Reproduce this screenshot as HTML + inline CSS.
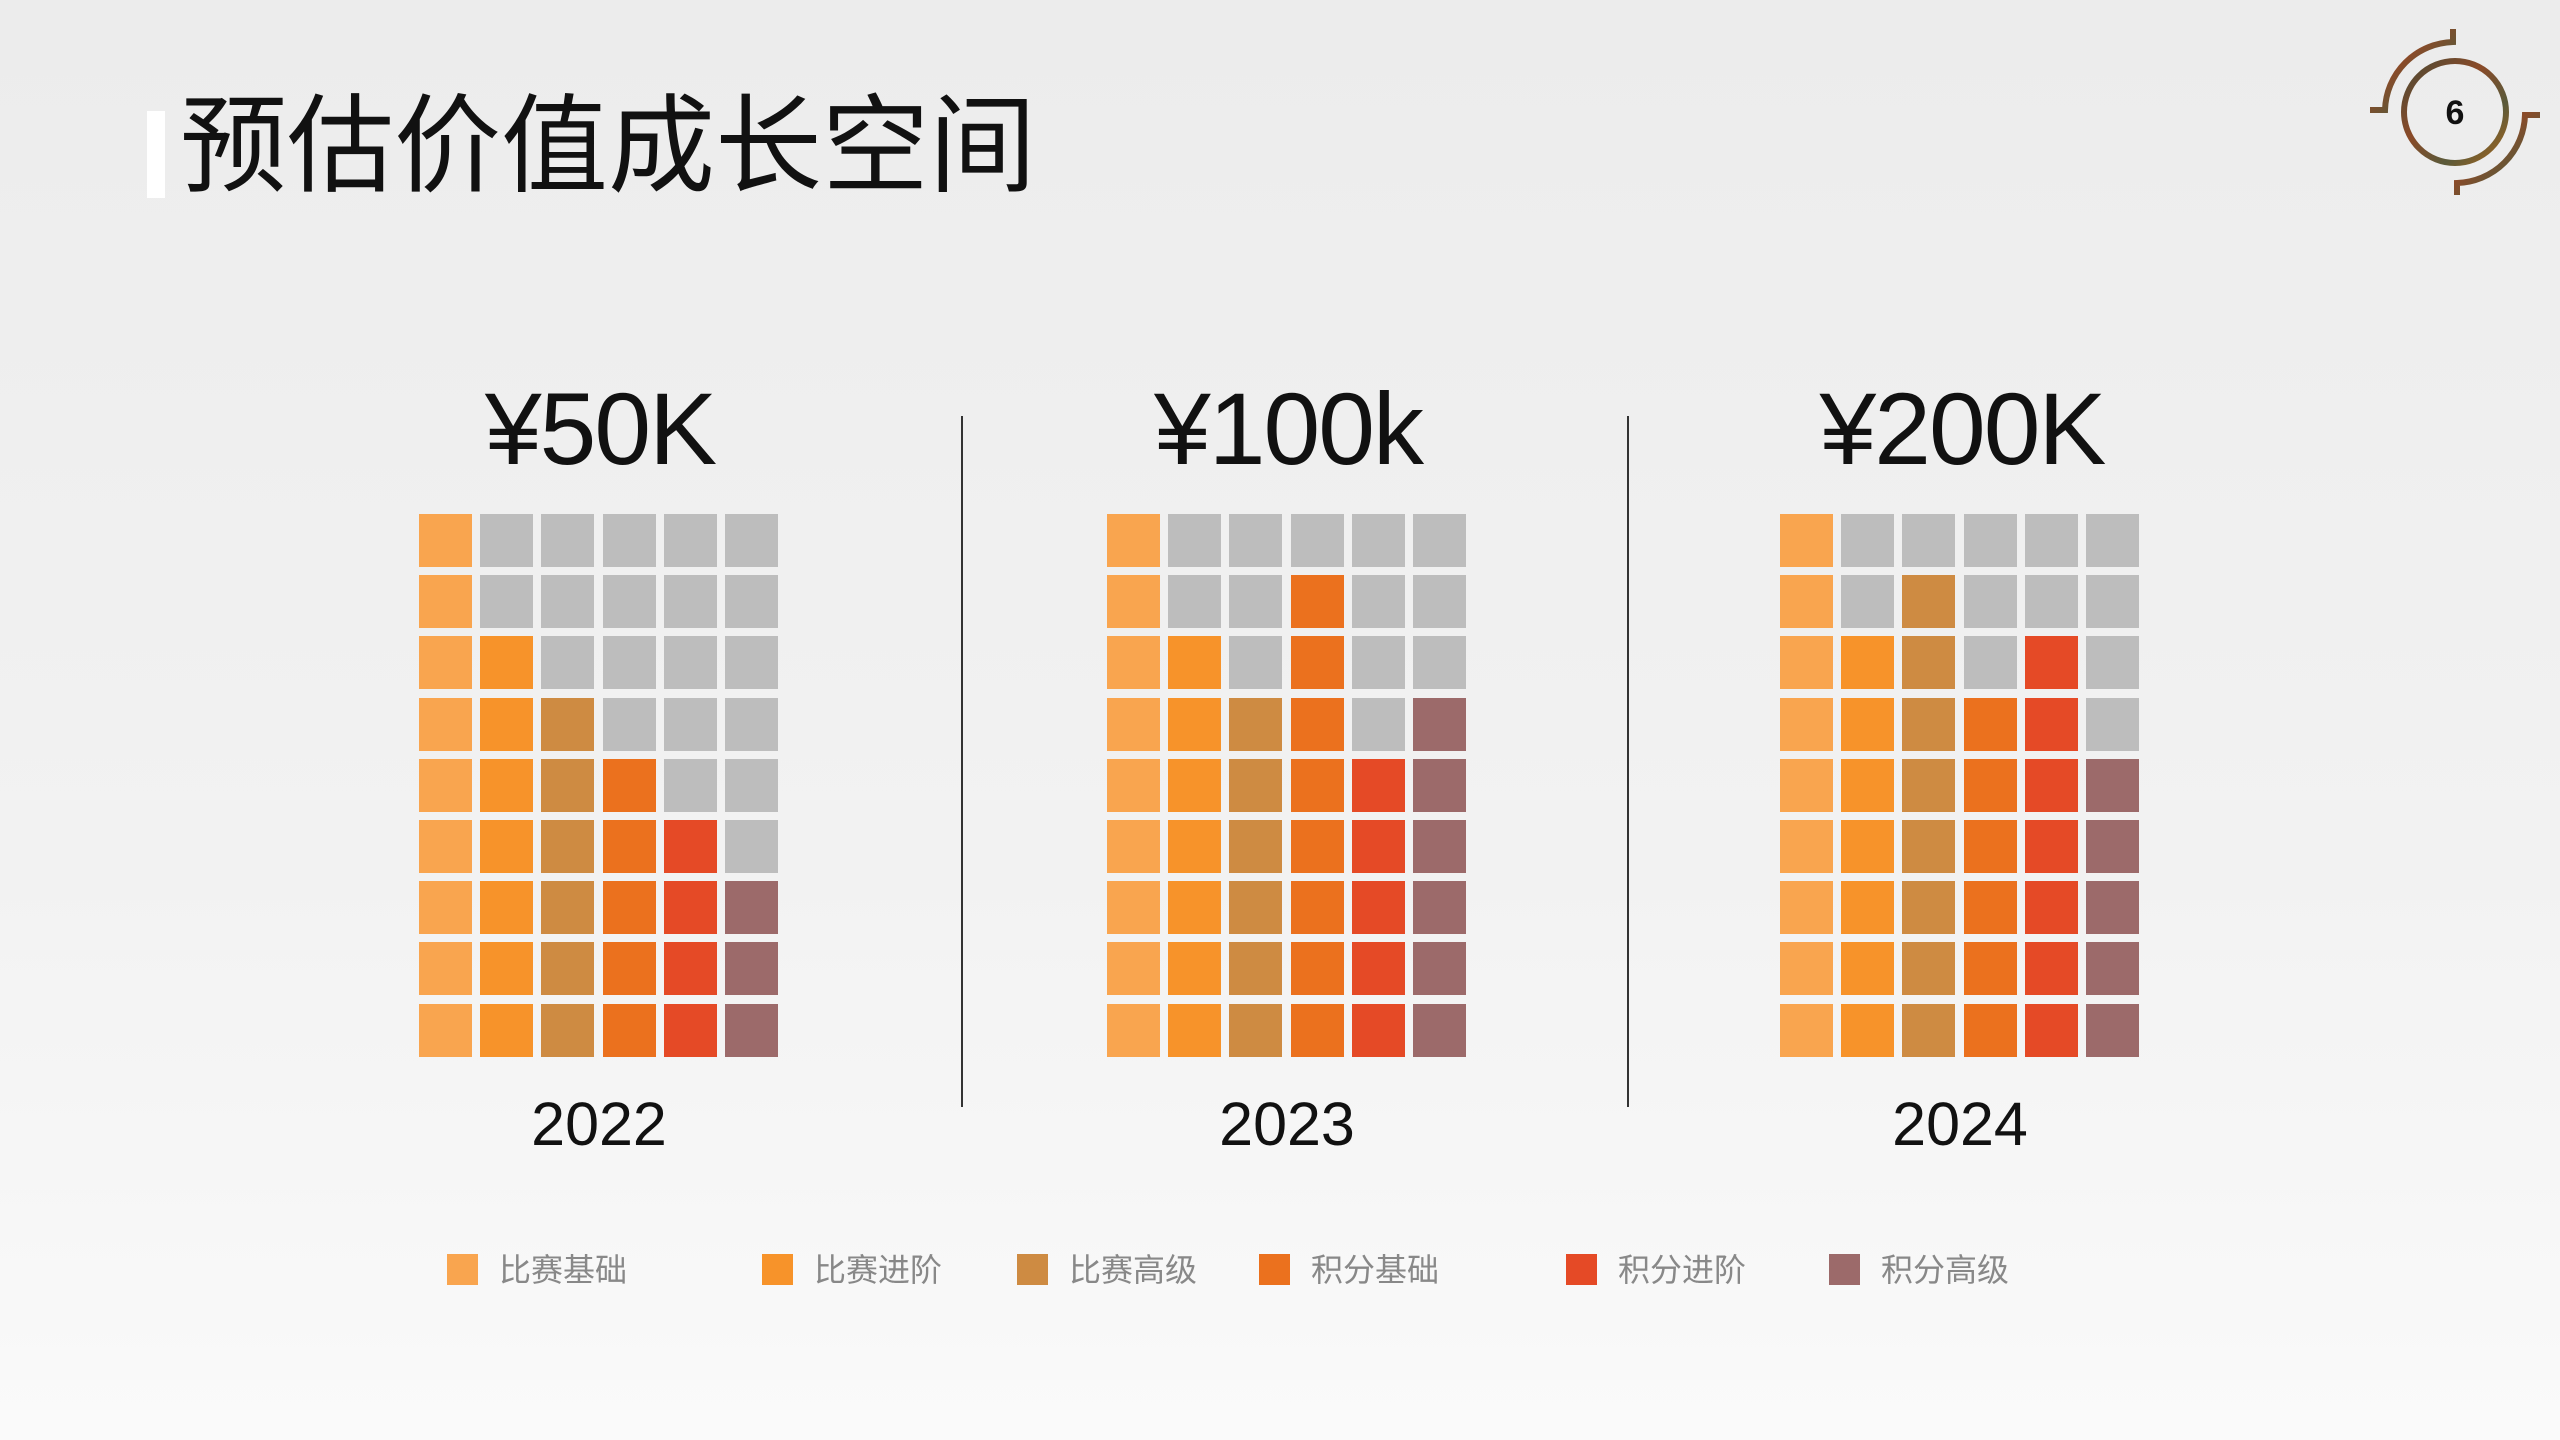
<!DOCTYPE html>
<html><head><meta charset="utf-8"><style>
html,body{margin:0;padding:0}
body{width:2560px;height:1440px;position:relative;overflow:hidden;background:linear-gradient(#ececec,#f2f2f2 60%,#fafafa);font-family:"Liberation Sans","Noto Sans CJK SC",sans-serif}
.a{position:absolute}
.sq{position:absolute;width:53px;height:53px}
.h{position:absolute;font-size:102px;color:#111;transform:translateX(-50%);white-space:nowrap;line-height:1;letter-spacing:-2px}
.y{position:absolute;font-size:61px;color:#111;transform:translateX(-50%);line-height:1}
.lg{position:absolute;top:1254px;font-size:32px;color:#888;line-height:1;white-space:nowrap}
.lg i{display:inline-block;width:31px;height:31px;vertical-align:-4px;margin-right:21px}
</style></head><body>
<div class="a" style="left:147px;top:111px;width:18px;height:87px;background:#fff"></div>
<div class="a" style="left:180px;top:83px;font-size:107px;line-height:1;color:#111;font-family:'Noto Sans CJK SC',sans-serif">预估价值成长空间</div>
<svg class="a" style="left:2370px;top:25px" width="170" height="175" viewBox="0 0 170 175">
<defs><linearGradient id="g" x1="0" y1="0" x2="1" y2="1"><stop offset="0" stop-color="#4a4a35"/><stop offset=".4" stop-color="#8a4a28"/><stop offset=".7" stop-color="#5a5a3a"/><stop offset="1" stop-color="#a8651c"/></linearGradient></defs>
<circle cx="85" cy="87" r="51" fill="none" stroke="url(#g)" stroke-width="6"/>
<path d="M83 4 V17 A70 70 0 0 0 15 85 H0" fill="none" stroke="url(#g)" stroke-width="6"/>
<path d="M87 170 V158 A70 70 0 0 0 155 90 H170" fill="none" stroke="url(#g)" stroke-width="6"/>
<text x="85" y="99" text-anchor="middle" font-size="34" font-weight="bold" font-family="Liberation Sans" fill="#111">6</text>
</svg>
<div class="a" style="left:961px;top:416px;width:2px;height:691px;background:#333"></div>
<div class="a" style="left:1627px;top:416px;width:2px;height:691px;background:#333"></div>
<div class="h" style="left:600px;top:378px">¥50K</div>
<div class="h" style="left:1288px;top:378px">¥100k</div>
<div class="h" style="left:1962px;top:378px">¥200K</div>
<div class="y" style="left:599px;top:1094px">2022</div>
<div class="y" style="left:1287px;top:1094px">2023</div>
<div class="y" style="left:1960px;top:1094px">2024</div>
<div id="grids"></div>
<div class="lg" style="left:447px"><i style="background:#F9A54F"></i>比赛基础</div>
<div class="lg" style="left:762px"><i style="background:#F7932A"></i>比赛进阶</div>
<div class="lg" style="left:1017px"><i style="background:#CE8B42"></i>比赛高级</div>
<div class="lg" style="left:1259px"><i style="background:#EB711E"></i>积分基础</div>
<div class="lg" style="left:1566px"><i style="background:#E54A26"></i>积分进阶</div>
<div class="lg" style="left:1829px"><i style="background:#9C6A6A"></i>积分高级</div>
<script>
var cols=["#F9A54F","#F7932A","#CE8B42","#EB711E","#E54A26","#9C6A6A"];
var grids=[[419,[9,7,6,5,4,3]],[1107,[9,7,6,8,5,6]],[1780,[9,7,8,6,7,5]]];
var h="";
grids.forEach(function(g){for(var c=0;c<6;c++)for(var r=0;r<9;r++){var on=(9-r)<=g[1][c];
h+='<div class="sq" style="left:'+Math.round(g[0]+c*61.2)+'px;top:'+Math.round(514+r*61.2)+'px;background:'+(on?cols[c]:'#BDBDBD')+'"></div>';}});
document.getElementById('grids').innerHTML=h;
</script>
</body></html>
